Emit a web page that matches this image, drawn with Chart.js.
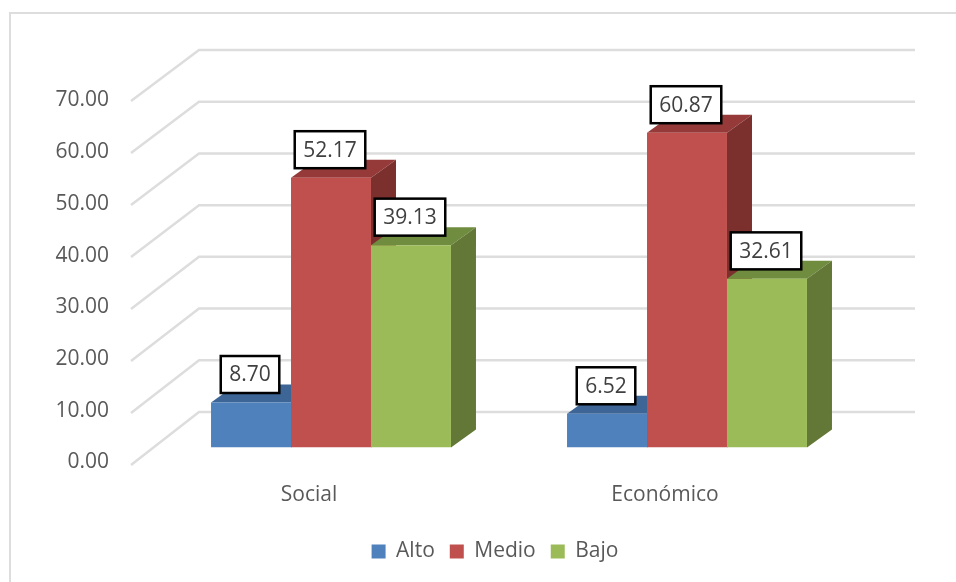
<!DOCTYPE html>
<html>
<head>
<meta charset="utf-8">
<script src="https://cdn.jsdelivr.net/npm/chart.js@4"></script>
<style>
html, body { margin: 0; padding: 0; background: #fff; }
#wrap { width: 956px; height: 582px; }
</style>
</head>
<body>
<div id="wrap"><canvas id="chart" width="956" height="582"></canvas></div>
<script>
const categories = ['Social', 'Económico'];
const alto = [8.70, 6.52];
const medio = [52.17, 60.87];
const bajo = [39.13, 32.61];
const seriesNames = ['Alto', 'Medio', 'Bajo'];
const frontColors = ['#4F81BD', '#C0504D', '#9BBB59'];
const topColors = ['#3D6596', '#953A38', '#6F8C3F'];
const sideColors = ['#325480', '#7C302E', '#637736'];

const fontName = '"Open Sans", sans-serif';
const textColor = '#595959';
const gridColor = '#DDDDDD';
const barDepth = { x: 25, y: 18 };

// back wall grid and the depth faces of the bars
const depthPlugin = {
    id: 'depth',
    beforeDraw(chart) {
        const c = chart.ctx;
        c.save();
        c.strokeStyle = gridColor;
        c.lineWidth = 2;
        c.strokeRect(10, 13, 980, 600);
        c.restore();
        // the legend sits a bit right of the plot centre
        chart.legend.right = 990;
    },
    beforeDatasetsDraw(chart) {
        const c = chart.ctx;
        const { x: xScale, y: yScale } = chart.scales;
        c.save();
        c.strokeStyle = gridColor;
        c.lineWidth = 2.5;
        yScale.ticks.forEach(t => {
            const py = yScale.getPixelForValue(t.value);
            const frontY = py + 17.5 - t.value * 0.03;
            const backY = py - 35.5;
            c.beginPath();
            c.moveTo(xScale.left - 22, frontY);
            c.lineTo(xScale.left + 46, backY);
            c.lineTo(xScale.right + 50, backY);
            c.stroke();
        });
        chart.data.datasets.forEach((ds, i) => {
            chart.getDatasetMeta(i).data.forEach(bar => {
                const left = bar.x - bar.width / 2;
                const right = bar.x + bar.width / 2;
                c.fillStyle = topColors[i];
                c.beginPath();
                c.moveTo(left, bar.y);
                c.lineTo(left + barDepth.x, bar.y - barDepth.y);
                c.lineTo(right + barDepth.x, bar.y - barDepth.y);
                c.lineTo(right, bar.y);
                c.closePath();
                c.fill();
                c.fillStyle = sideColors[i];
                c.beginPath();
                c.moveTo(right, bar.y);
                c.lineTo(right + barDepth.x, bar.y - barDepth.y);
                c.lineTo(right + barDepth.x, bar.base - barDepth.y);
                c.lineTo(right, bar.base);
                c.closePath();
                c.fill();
            });
        });
        c.restore();
    },
    afterDatasetsDraw(chart) {
        const c = chart.ctx;
        c.save();
        c.font = '21px ' + fontName;
        c.textAlign = 'center';
        c.textBaseline = 'middle';
        chart.data.datasets.forEach((ds, i) => {
            chart.getDatasetMeta(i).data.forEach((bar, j) => {
                const label = ds.data[j].toFixed(2);
                const w = c.measureText(label).width + 17;
                const cx = bar.x - 1;
                const cy = bar.y - 28;
                c.fillStyle = '#fff';
                c.strokeStyle = '#000';
                c.lineWidth = 2.5;
                c.fillRect(cx - w / 2, cy - 18.5, w, 37);
                c.strokeRect(cx - w / 2, cy - 18.5, w, 37);
                c.fillStyle = '#404040';
                c.fillText(label, cx, cy + 1);
            });
        });
        c.restore();
    }
};

const seriesValues = [alto, medio, bajo];

new Chart(document.getElementById('chart'), {
    type: 'bar',
    data: {
        labels: categories,
        datasets: seriesNames.map((name, i) => ({
            label: name,
            data: seriesValues[i],
            backgroundColor: frontColors[i],
            categoryPercentage: 0.674,
            barPercentage: 1
        }))
    },
    options: {
        responsive: false,
        animation: false,
        layout: { padding: { top: 85.5, right: 91, bottom: 10, left: 0 } },
        scales: {
            x: {
                grid: { display: false, drawTicks: false },
                border: { display: false },
                ticks: {
                    color: textColor,
                    font: { family: fontName, size: 21 },
                    labelOffset: -22,
                    padding: 34.5
                },
                afterFit(scale) { scale.height = 78.5; }
            },
            y: {
                min: 0,
                max: 70,
                grid: { display: false, drawTicks: false },
                border: { display: false },
                ticks: {
                    stepSize: 10,
                    color: textColor,
                    font: { family: fontName, size: 21 },
                    padding: 44,
                    labelOffset: 15,
                    callback: v => v.toFixed(2)
                },
                afterFit(scale) { scale.width = 153; }
            }
        },
        plugins: {
            tooltip: { enabled: false },
            legend: {
                position: 'bottom',
                labels: {
                    color: textColor,
                    font: { family: fontName, size: 21 },
                    boxWidth: 14,
                    boxHeight: 14,
                    padding: 15
                }
            }
        }
    },
    plugins: [depthPlugin]
});
</script>
</body>
</html>
